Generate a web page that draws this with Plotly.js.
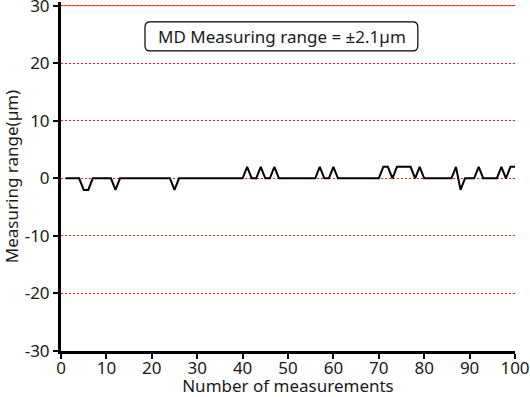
<!DOCTYPE html>
<html>
<head>
<meta charset="utf-8">
<script src="https://cdn.plot.ly/plotly-3.0.1.min.js"></script>
<style>html,body{margin:0;padding:0;background:#fff;}#chart{width:530px;height:397px;}</style>
</head>
<body>
<div id="chart"></div>
<script>
const measurementNo = [];
for (let i = 1; i <= 100; i++) measurementNo.push(i);
const deviation = [
  0, 0, 0, 0, -2, -2, 0, 0, 0, 0,
  0, -2, 0, 0, 0, 0, 0, 0, 0, 0,
  0, 0, 0, 0, -2, 0, 0, 0, 0, 0,
  0, 0, 0, 0, 0, 0, 0, 0, 0, 0,
  2, 0, 0, 2, 0, 0, 2, 0, 0, 0,
  0, 0, 0, 0, 0, 0, 2, 0, 0, 2,
  0, 0, 0, 0, 0, 0, 0, 0, 0, 0,
  2, 2, 0, 2, 2, 2, 2, 0, 2, 0,
  0, 0, 0, 0, 0, 0, 2, -2, 0, 0,
  0, 2, 0, 0, 0, 0, 2, 0, 2, 2
];
const yTicks = [-30, -20, -10, 0, 10, 20, 30];
const xTicks = [0, 10, 20, 30, 40, 50, 60, 70, 80, 90, 100];
const boxText = 'MD Measuring range = ±2.1µm';
const xTitle = 'Number of measurements';
const yTitle = 'Measuring range(µm)';

const font = 'Noto Sans, Open Sans, sans-serif';
const ink = '#1a1a1a';
const gridRed = '#ff1a1a';

const trace = {
  x: measurementNo, y: deviation, type: 'scatter', mode: 'lines',
  line: {color: '#000', width: 2}, hoverinfo: 'skip'
};

const topTick = Math.max(...yTicks);

const layout = {
  width: 530, height: 397,
  margin: {l: 61, r: 15, t: 2, b: 46},
  paper_bgcolor: '#fff', plot_bgcolor: '#fff',
  showlegend: false,
  font: {family: font, size: 17, color: ink},
  xaxis: {
    range: [0, 100], tickvals: xTicks, ticktext: xTicks.map(String),
    showgrid: false, zeroline: false,
    showline: true, linecolor: '#000', linewidth: 3,
    ticks: 'outside', ticklen: 5, tickwidth: 2, tickcolor: '#000',
    ticklabelstandoff: -5, ticklabeloverflow: 'allow',
    tickfont: {family: font, size: 17, color: ink},
    title: {text: xTitle, font: {family: font, size: 17, color: ink}, standoff: 3}
  },
  yaxis: {
    range: [-30, 30.65], tickvals: yTicks, ticktext: yTicks.map(String),
    showgrid: true, gridcolor: gridRed, gridwidth: 1, griddash: '2px,2px',
    zeroline: false, ticklabeloverflow: 'allow',
    showline: true, linecolor: '#000', linewidth: 3,
    ticks: 'outside', ticklen: 5, tickwidth: 2, tickcolor: '#000',
    tickfont: {family: font, size: 17, color: ink},
    title: {text: yTitle, font: {family: font, size: 17, color: ink}, standoff: 6}
  },
  shapes: [
    {
      type: 'line', xref: 'paper', yref: 'y', layer: 'below',
      x0: 0.005, x1: 1, y0: topTick, y1: topTick,
      line: {color: gridRed, width: 1, dash: '2px,2px'}
    },
    {
      type: 'path', xref: 'paper', yref: 'paper', layer: 'above',
      path: 'M 0.196 0.860 L 0.775 0.860 Q 0.786 0.860 0.786 0.875 L 0.786 0.928 Q 0.786 0.943 0.775 0.943 L 0.196 0.943 Q 0.185 0.943 0.185 0.928 L 0.185 0.875 Q 0.185 0.860 0.196 0.860 Z',
      line: {color: '#000', width: 1.2}, fillcolor: 'rgba(255,255,255,1)'
    }
  ],
  annotations: [{
    text: boxText, xref: 'paper', yref: 'paper', x: 0.486, y: 0.900,
    xanchor: 'center', yanchor: 'middle', showarrow: false,
    font: {family: font, size: 17, color: ink}
  }]
};

Plotly.newPlot('chart', [trace], layout, {displayModeBar: false, staticPlot: true});
</script>
</body>
</html>
